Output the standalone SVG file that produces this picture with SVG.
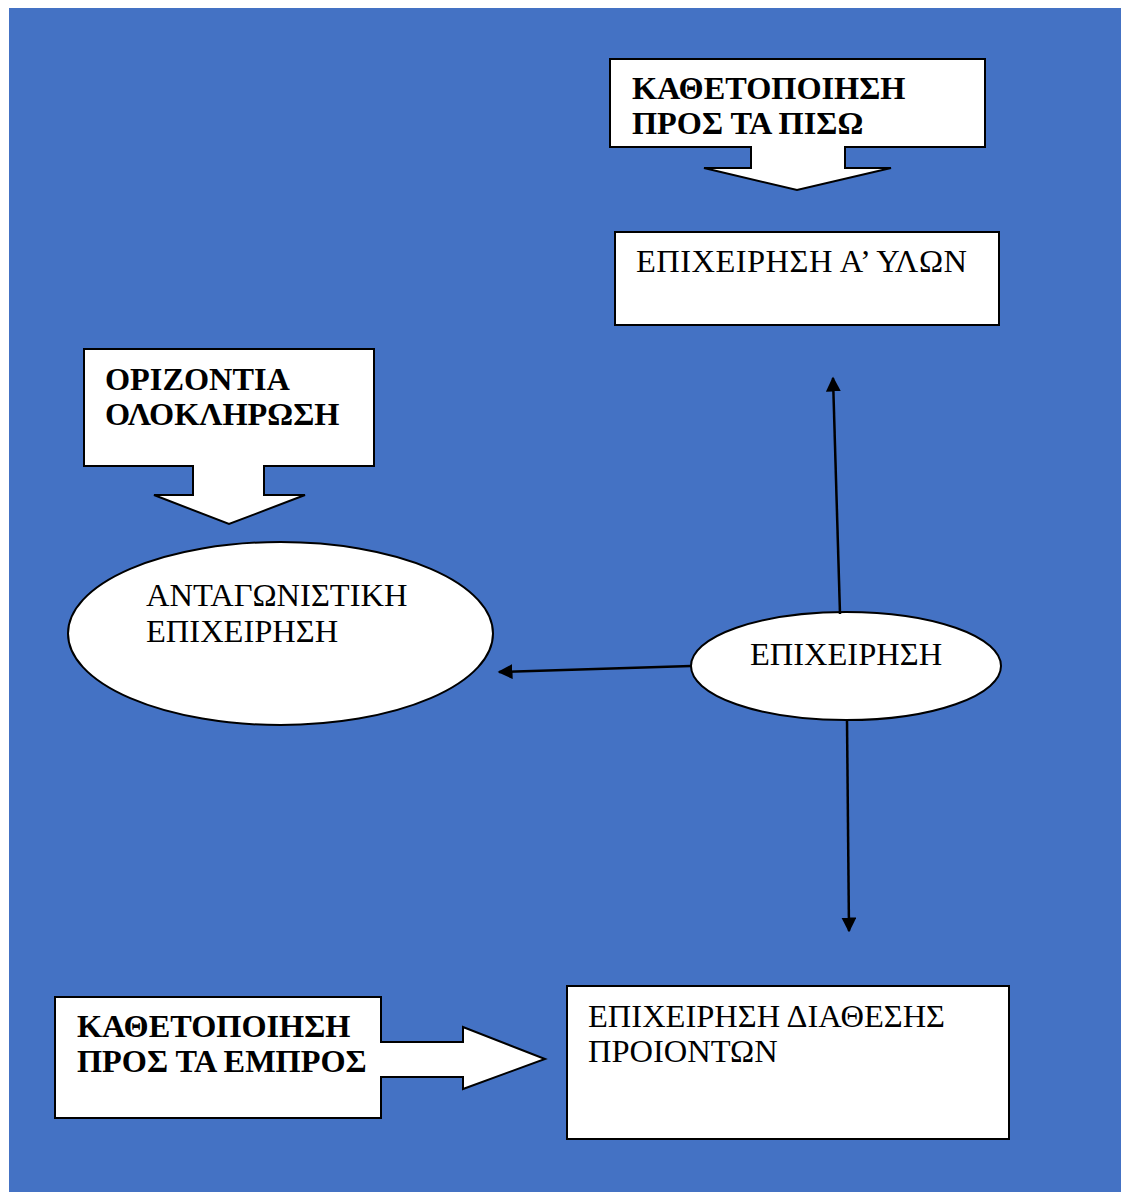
<svg xmlns="http://www.w3.org/2000/svg" width="1121" height="1192" viewBox="0 0 1121 1192">
<defs>
<style>
.shape{fill:#fff;stroke:#000;stroke-width:2;stroke-linejoin:miter}
.b{font-family:"Liberation Serif","Times New Roman",serif;font-weight:bold;font-size:32.3px;fill:#000}
.r{font-family:"Liberation Serif","Times New Roman",serif;font-size:32.5px;fill:#000}
.conn{stroke:#000;stroke-width:2.5;fill:none;marker-end:url(#ah)}
</style>
<marker id="ah" viewBox="0 0 10 10" refX="9" refY="5" markerWidth="6" markerHeight="6" markerUnits="strokeWidth" orient="auto">
<path d="M0,0 L10,5 L0,10 Z" fill="#000"/>
</marker>
</defs>
<rect x="9" y="8" width="1112" height="1184" fill="#4472C4"/>
<g id="callout-back">
<path class="shape" d="M610,59 H985 V147 H845 V168 H891 L797,190 L704,168 H751 V147 H610 Z"/>
<text class="b" x="632" y="99">ΚΑΘΕΤΟΠΟΙΗΣΗ</text>
<text class="b" x="632" y="134">ΠΡΟΣ ΤΑ ΠΙΣΩ</text>
</g>
<g id="raw-materials">
<rect class="shape" x="615" y="232" width="384" height="93"/>
<text class="r" x="636" y="272" textLength="331" lengthAdjust="spacing">ΕΠΙΧΕΙΡΗΣΗ Α’ ΥΛΩΝ</text>
</g>
<g id="callout-horizontal">
<path class="shape" d="M84,349 H374 V466 H264 V495 H305 L229,524 L154,495 H193 V466 H84 Z"/>
<text class="b" x="105" y="390">ΟΡΙΖΟΝΤΙΑ</text>
<text class="b" x="105" y="425">ΟΛΟΚΛΗΡΩΣΗ</text>
</g>
<g id="competitor">
<ellipse class="shape" cx="280.5" cy="633.5" rx="212.5" ry="91.5"/>
<text class="r" x="146" y="606">ΑΝΤΑΓΩΝΙΣΤΙΚΗ</text>
<text class="r" x="146" y="642">ΕΠΙΧΕΙΡΗΣΗ</text>
</g>
<g id="company">
<ellipse class="shape" cx="846" cy="666" rx="155" ry="54"/>
<text class="r" x="846" y="665" text-anchor="middle">ΕΠΙΧΕΙΡΗΣΗ</text>
</g>
<g id="distribution">
<rect class="shape" x="567" y="986" width="442" height="153"/>
<text class="r" x="588" y="1027">ΕΠΙΧΕΙΡΗΣΗ ΔΙΑΘΕΣΗΣ</text>
<text class="r" x="588" y="1062">ΠΡΟΙΟΝΤΩΝ</text>
</g>
<g id="callout-forward">
<path class="shape" d="M55,997 H381 V1042 H463 V1027 L545,1059 L463,1089 V1077 H381 V1118 H55 Z"/>
<text class="b" x="77" y="1037">ΚΑΘΕΤΟΠΟΙΗΣΗ</text>
<text class="b" x="77" y="1072">ΠΡΟΣ ΤΑ ΕΜΠΡΟΣ</text>
</g>
<g id="connectors">
<line class="conn" x1="840" y1="614" x2="833" y2="378"/>
<line class="conn" x1="691" y1="666" x2="499" y2="672"/>
<line class="conn" x1="847" y1="720" x2="849" y2="931"/>
</g>
</svg>
